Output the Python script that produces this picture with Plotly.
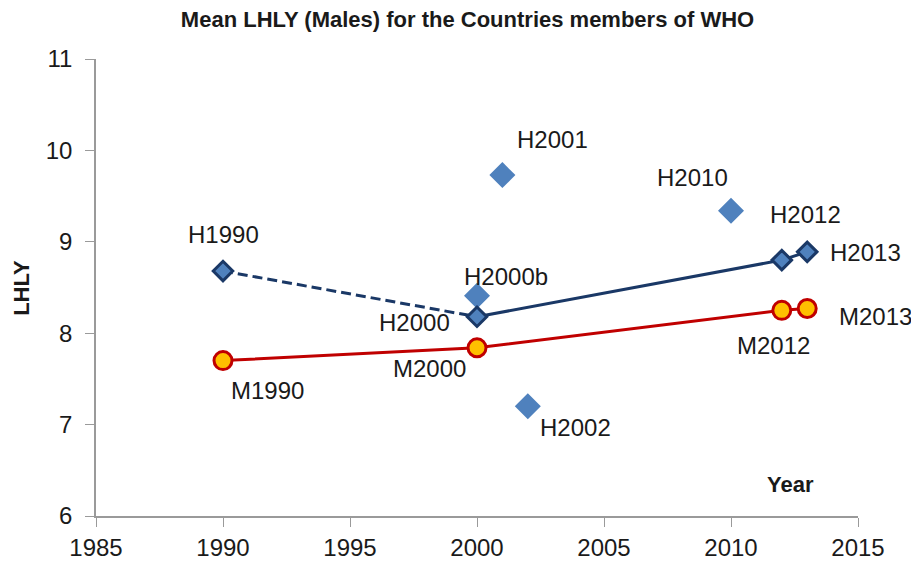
import plotly.graph_objects as go

# healthy-life trend points (H) and mean points (M)
h_years = [1990, 2000, 2012, 2013]
h_vals = [8.68, 8.18, 8.80, 8.89]
h_labels = ["H1990", "H2000", "H2012", "H2013"]

m_years = [1990, 2000, 2012, 2013]
m_vals = [7.70, 7.84, 8.25, 8.27]
m_labels = ["M1990", "M2000", "M2012", "M2013"]

# loose H points without a line
x_years = [2000, 2001, 2002, 2010]
x_vals = [8.41, 9.73, 7.20, 9.34]
x_labels = ["H2000b", "H2001", "H2002", "H2010"]

x_ticks = [1985, 1990, 1995, 2000, 2005, 2010, 2015]
y_ticks = [6, 7, 8, 9, 10, 11]

navy = "#1A3866"
blue = "#4F81BD"
red = "#C00000"
gold = "#FFC000"
txt = "#1a1a1a"
axis_grey = "#9a9a9a"
font = "Liberation Sans"

fig = go.Figure()

fig.add_trace(go.Scatter(
    x=x_years, y=x_vals, mode="markers",
    marker=dict(symbol="diamond", size=20, color=blue),
    hoverinfo="x+y", showlegend=False
))

# dashed bit 1990-2000, then solid 2000 onwards
fig.add_trace(go.Scatter(
    x=h_years[:2], y=h_vals[:2], mode="lines",
    line=dict(color=navy, width=3, dash="10px,5px"),
    showlegend=False
))
fig.add_trace(go.Scatter(
    x=h_years[1:], y=h_vals[1:], mode="lines",
    line=dict(color=navy, width=3),
    showlegend=False
))
fig.add_trace(go.Scatter(
    x=h_years, y=h_vals, mode="markers",
    marker=dict(symbol="diamond", size=15, color=blue,
                line=dict(color=navy, width=3)),
    showlegend=False
))

fig.add_trace(go.Scatter(
    x=m_years, y=m_vals, mode="lines+markers",
    line=dict(color=red, width=3),
    marker=dict(symbol="circle", size=18, color=gold,
                line=dict(color=red, width=3)),
    showlegend=False
))

# label offsets in pixels (x right, y up)
offsets = {
    "H1990": (0, 37), "H2000": (-63, -6), "H2012": (24, 46), "H2013": (58, -1),
    "M1990": (44, -30), "M2000": (-48, -21), "M2012": (-8, -35), "M2013": (68, -8),
    "H2000b": (29, 19), "H2001": (50, 36), "H2002": (48, -21), "H2010": (-39, 33),
}

for xs, ys, labs in [(h_years, h_vals, h_labels), (m_years, m_vals, m_labels),
                     (x_years, x_vals, x_labels)]:
    for xv, yv, lab in zip(xs, ys, labs):
        dx, dy = offsets[lab]
        fig.add_annotation(x=xv, y=yv, text=lab, showarrow=False,
                           xshift=dx, yshift=dy,
                           font=dict(family=font, size=24, color=txt))

fig.add_annotation(xref="paper", yref="paper", x=0.911, y=0.068,
                   xanchor="center", yanchor="middle",
                   text="<b>Year</b>", showarrow=False,
                   font=dict(family=font, size=22, color=txt))
fig.add_annotation(xref="paper", yref="paper", x=-0.098, y=0.5,
                   xanchor="center", yanchor="middle",
                   text="<b>LHLY</b>", textangle=-90, showarrow=False,
                   font=dict(family=font, size=22, color=txt))

# the page body adds 8px of margin, so the margins below allow for it
fig.update_layout(
    width=919, height=564,
    paper_bgcolor="white", plot_bgcolor="white",
    margin=dict(l=88, r=69, t=51, b=56),
    title=dict(text="<b>Mean LHLY (Males) for the Countries members of WHO</b>",
               x=0.5, xanchor="center", y=0.994, yanchor="top",
               font=dict(family=font, size=22, color=txt)),
    font=dict(family=font, color=txt),
)
fig.update_xaxes(range=[1985, 2015], tickvals=x_ticks, showgrid=False, zeroline=False,
                 showline=True, linecolor=axis_grey, linewidth=1.5,
                 ticks="outside", ticklen=9, tickcolor=axis_grey,
                 tickfont=dict(family=font, size=24, color=txt))
fig.update_yaxes(range=[6, 11], tickvals=y_ticks, showgrid=False, zeroline=False,
                 showline=True, linecolor=axis_grey, linewidth=1.5,
                 ticks="outside", ticklen=9, tickcolor=axis_grey,
                 ticklabelstandoff=8,
                 tickfont=dict(family=font, size=24, color=txt))

fig.write_html("out.html")
